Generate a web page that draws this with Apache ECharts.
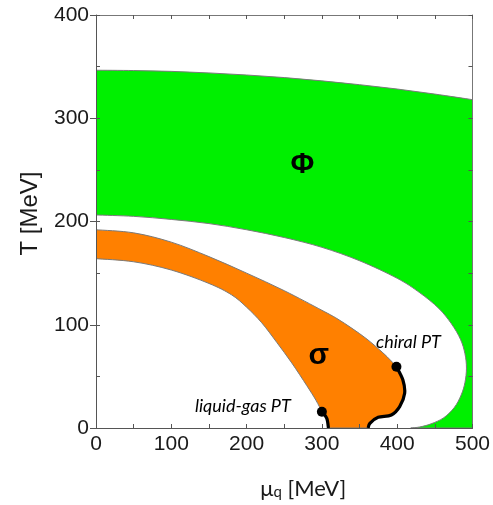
<!DOCTYPE html>
<html><head><meta charset="utf-8">
<script src="https://cdn.jsdelivr.net/npm/echarts@6/dist/echarts.min.js"></script>
<style>html,body{margin:0;padding:0;background:#fff}#c{width:493px;height:505px}</style>
</head><body><div id="c"></div>
<script>
// ---- data ----
const phiUpperMu = [0,50,100,150,200,250,300,350,400,450,500];
const phiUpperT  = [346.5,346.2,345.4,343.9,341.9,339.4,336.2,332.5,328.3,323.4,318];
const phiLowerMu = [0,50,100,150,200,250,300,350,400,430,455,472,484,490,492,490,485,476,462,445,430,418];
const phiLowerT  = [206.3,205,202,198,192,184.5,175,162,145,131,116,101,86,72,58,44,32,20,10,4,1,0];
const sigmaUpperMu = [0,50,100,150,200,250,300,320,340,360,380,392,399];
const sigmaUpperT  = [192,189,180,166,150,133,114,106,96.5,86,73.5,65,59.4];
const sigmaLowerMu = [0,50,100,150,180,200,220,240,260,280,292,300];
const sigmaLowerT  = [164,161,153,140,129,117,102,83,63,41,27,15.8];
const chiralMu = [399,407.6,409.9,403.3,392.2,374.7,363.7,361.5];
const chiralT  = [59.4,46.5,33.6,20.7,12.6,10.3,4.5,0];
const lgMu = [300,306.5,308.7];
const lgT  = [15.8,9.4,0];
const criticalMu = [399,300];
const criticalT  = [59.4,15.8];
const xTickLabels = [0,100,200,300,400,500];
const yTickLabels = [0,100,200,300,400];
const X_MIN = 0, X_MAX = 500, Y_MIN = 0, Y_MAX = 400;

// ---- helpers ----
function pts(mu, t){ return mu.map((m,i)=>[m,t[i]]); }
function crPath(p){
  let d='';
  for(let i=0;i<p.length-1;i++){
    const p0=p[i-1]||p[i], p1=p[i], p2=p[i+1], p3=p[i+2]||p[i+1];
    const c1=[p1[0]+(p2[0]-p0[0])/6, p1[1]+(p2[1]-p0[1])/6];
    const c2=[p2[0]-(p3[0]-p1[0])/6, p2[1]-(p3[1]-p1[1])/6];
    d+=' C'+c1[0]+','+c1[1]+' '+c2[0]+','+c2[1]+' '+p2[0]+','+p2[1];
  }
  return d;
}
function P(api, p){ return api.coord(p); }

const phiTop = pts(phiUpperMu, phiUpperT);
const phiLow = pts(phiLowerMu, phiLowerT);
const sigTop = pts(sigmaUpperMu, sigmaUpperT);
const sigLow = pts(sigmaLowerMu, sigmaLowerT);
const chiral = pts(chiralMu, chiralT);
const lg = pts(lgMu, lgT);

function renderPhi(params, api){
  const top = phiTop.map(p=>P(api,p));
  const lowRev = phiLow.slice().reverse().map(p=>P(api,p));
  const corner = P(api,[X_MAX, Y_MIN]);
  let d = 'M'+top[0][0]+','+top[0][1] + crPath(top)
        + ' L'+corner[0]+','+corner[1]
        + ' L'+lowRev[0][0]+','+lowRev[0][1] + crPath(lowRev) + ' Z';
  return {type:'path', shape:{pathData:d}, style:{fill:'#00f000', stroke:'#7a7a7a', lineWidth:1}};
}
function renderSigma(params, api){
  const top = sigTop.map(p=>P(api,p));
  const ch = chiral.map(p=>P(api,p));
  const lgRev = lg.slice().reverse().map(p=>P(api,p));
  const lowRev = sigLow.slice().reverse().map(p=>P(api,p));
  let d = 'M'+top[0][0]+','+top[0][1] + crPath(top)
        + crPath(ch)
        + ' L'+lgRev[0][0]+','+lgRev[0][1] + crPath(lgRev)
        + crPath(lowRev) + ' Z';
  return {type:'path', shape:{pathData:d}, style:{fill:'#ff8000', stroke:'#7a7a7a', lineWidth:1}};
}
function renderLine(arr){
  return function(params, api){
    const p = arr.map(q=>P(api,q));
    const d = 'M'+p[0][0]+','+p[0][1] + crPath(p);
    return {type:'path', shape:{pathData:d}, style:{fill:null, stroke:'#000', lineWidth:3.2, lineJoin:'round'}};
  };
}

const tickFont = '"Liberation Sans", Arial, sans-serif';
const calFont = 'Lato, "Open Sans", sans-serif';
const txt = '#1a1a1a';

const chart = echarts.init(document.getElementById('c'), null, {renderer:'canvas'});
chart.setOption({
  animation:false,
  backgroundColor:'#fff',
  grid:{left:96, right:17, top:15, bottom:77, containLabel:false},
  xAxis:[
    {type:'value', min:X_MIN, max:X_MAX, interval:50, position:'bottom', z:10,
     axisLine:{show:true, onZero:false, lineStyle:{color:'#555', width:1}},
     axisTick:{show:true, inside:true, length:4, lineStyle:{color:'#555'}},
     axisLabel:{formatter:v=>xTickLabels.includes(v)?String(v):'', fontSize:21, color:txt, fontFamily:tickFont, margin:6},
     splitLine:{show:false},
     name:'{m|μ}{s|q}{m| [MeV]}', nameLocation:'middle', nameGap:46,
     nameTextStyle:{padding:[0,0,0,38], rich:{
       m:{fontSize:22, fontFamily:calFont, color:txt, lineHeight:26, verticalAlign:'bottom'},
       s:{fontSize:15, fontFamily:calFont, color:txt, lineHeight:20, verticalAlign:'bottom'}}}},
    {type:'value', min:X_MIN, max:X_MAX, interval:50, position:'top', z:10,
     axisLine:{show:true, onZero:false, lineStyle:{color:'#777', width:1}},
     axisTick:{show:true, inside:true, length:4, lineStyle:{color:'#555'}},
     axisLabel:{show:false}, splitLine:{show:false}}
  ],
  yAxis:[
    {type:'value', min:Y_MIN, max:Y_MAX, interval:100, position:'left', z:10,
     axisLine:{show:true, onZero:false, lineStyle:{color:'#555', width:1}},
     axisTick:{show:true, inside:false, length:6, lineStyle:{color:'#555'}},
     axisLabel:{formatter:v=>yTickLabels.includes(v)?String(v):'', fontSize:21, color:txt, fontFamily:tickFont, margin:7},
     splitLine:{show:false},
     name:'T [MeV]', nameLocation:'middle', nameGap:54, nameRotate:90,
     nameTextStyle:{fontSize:24, fontFamily:tickFont, color:txt, padding:[0,0,0,16]}},
    {type:'value', min:Y_MIN, max:Y_MAX, interval:50, position:'left', z:10,
     axisLine:{show:false, onZero:false},
     axisTick:{show:true, inside:true, length:4, lineStyle:{color:'#555'}},
     axisLabel:{show:false}, splitLine:{show:false}},
    {type:'value', min:Y_MIN, max:Y_MAX, interval:50, position:'right', z:10,
     axisLine:{show:true, onZero:false, lineStyle:{color:'#777', width:1}},
     axisTick:{show:true, inside:true, length:4, lineStyle:{color:'#555'}},
     axisLabel:{show:false}, splitLine:{show:false}}
  ],
  series:[
    {type:'custom', name:'Phi', xAxisIndex:0, yAxisIndex:0, data:[0], renderItem:renderPhi, clip:true, z:2, silent:true},
    {type:'custom', name:'sigma', xAxisIndex:0, yAxisIndex:0, data:[0], renderItem:renderSigma, clip:true, z:3, silent:true},
    {type:'custom', name:'chiral', xAxisIndex:0, yAxisIndex:0, data:[0], renderItem:renderLine(chiral), clip:true, z:4, silent:true},
    {type:'custom', name:'lg', xAxisIndex:0, yAxisIndex:0, data:[0], renderItem:renderLine(lg), clip:true, z:4, silent:true},
    {type:'scatter', name:'critical', xAxisIndex:0, yAxisIndex:0, data:pts(criticalMu, criticalT),
     symbol:'circle', symbolSize:10, itemStyle:{color:'#000', opacity:1}, z:5, silent:true},
    {type:'scatter', name:'labels', xAxisIndex:0, yAxisIndex:0, symbolSize:0, z:6, silent:true,
     itemStyle:{opacity:1},
     label:{show:true, position:'inside', formatter:p=>p.name, opacity:1},
     data:[
       {name:'Φ', value:[274,255], label:{fontSize:29, fontWeight:'bold', color:'#000', fontFamily:tickFont}},
       {name:'σ', value:[296,70], label:{fontSize:30, fontWeight:'bold', color:'#000', fontFamily:tickFont}},
       {name:'chiral PT', value:[415,83], label:{fontSize:18, fontStyle:'italic', color:'#000', fontFamily:calFont}},
       {name:'liquid-gas PT', value:[195,21], label:{fontSize:18, fontStyle:'italic', color:'#000', fontFamily:calFont}}
     ]}
  ]
});
</script>
</body></html>
